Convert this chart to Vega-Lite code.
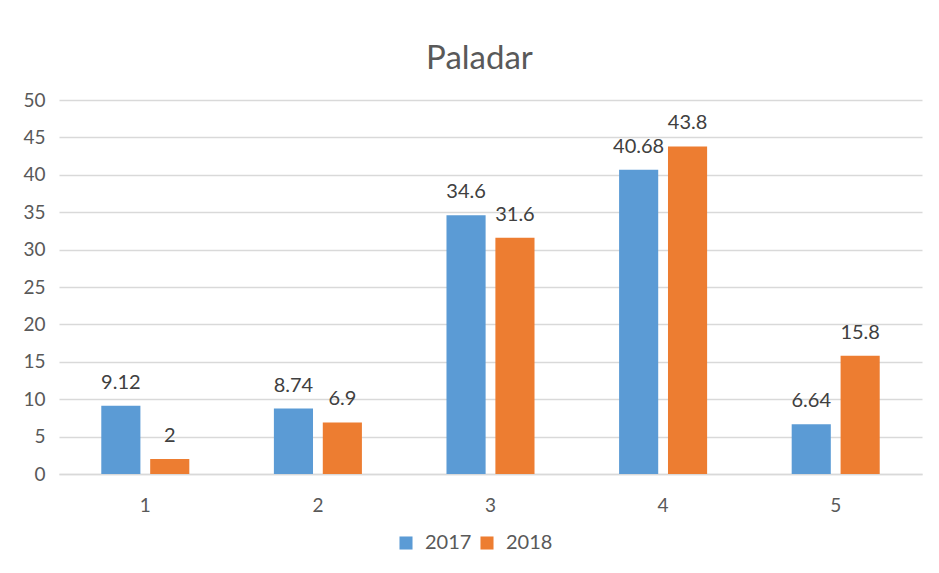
{
  "$schema": "https://vega.github.io/schema/vega-lite/v6.json",
  "autosize": "none",
  "width": 863,
  "height": 374,
  "padding": {"left": 59, "top": 100, "right": 17, "bottom": 99},
  "background": "white",
  "title": {"text": "Paladar", "fontSize": 33, "font": "Lato", "fontWeight": "normal", "color": "#595959", "anchor": "middle", "offset": 15, "dx": -11},
  "data": {"values": [
    {"cat": "1", "year": "2017", "value": 9.12},
    {"cat": "1", "year": "2018", "value": 2},
    {"cat": "2", "year": "2017", "value": 8.74},
    {"cat": "2", "year": "2018", "value": 6.9},
    {"cat": "3", "year": "2017", "value": 34.6},
    {"cat": "3", "year": "2018", "value": 31.6},
    {"cat": "4", "year": "2017", "value": 40.68},
    {"cat": "4", "year": "2018", "value": 43.8},
    {"cat": "5", "year": "2017", "value": 6.64},
    {"cat": "5", "year": "2018", "value": 15.8}
  ]},
  "encoding": {
    "x": {"field": "cat", "type": "nominal", "scale": {"paddingInner": 0.49, "paddingOuter": 0.245},
      "axis": {"title": null, "labelAngle": 0, "ticks": false, "domainColor": "#d9d9d9", "domainWidth": 1.5, "labelPadding": 22, "labelFontSize": 19, "labelFont": "Lato", "labelColor": "#595959"}},
    "xOffset": {"field": "year", "type": "nominal", "scale": {"paddingInner": 0.2, "paddingOuter": 0}},
    "y": {"field": "value", "type": "quantitative", "scale": {"domain": [0, 50]},
      "axis": {"title": null, "values": [0,5,10,15,20,25,30,35,40,45,50], "domain": false, "ticks": false, "gridColor": "#d9d9d9", "gridWidth": 1.5, "labelPadding": 14, "labelFontSize": 19, "labelFont": "Lato", "labelColor": "#595959"}}
  },
  "layer": [
    {"mark": {"type": "bar"},
     "encoding": {"color": {"field": "year", "type": "nominal", "scale": {"range": ["#5b9bd5", "#ed7d31"]},
       "legend": {"title": null, "orient": "none", "direction": "horizontal", "legendX": 337, "legendY": 433, "symbolType": "square", "symbolSize": 170, "symbolStrokeWidth": 0, "labelFontSize": 20, "labelFont": "Lato", "labelColor": "#595959", "columnPadding": 5, "labelOffset": 9}}}},
    {"mark": {"type": "text", "baseline": "bottom", "dy": -13, "fontSize": 20, "font": "Lato", "color": "#404040"},
     "encoding": {"text": {"field": "value", "type": "quantitative"}}}
  ],
  "config": {"view": {"stroke": null}}
}
